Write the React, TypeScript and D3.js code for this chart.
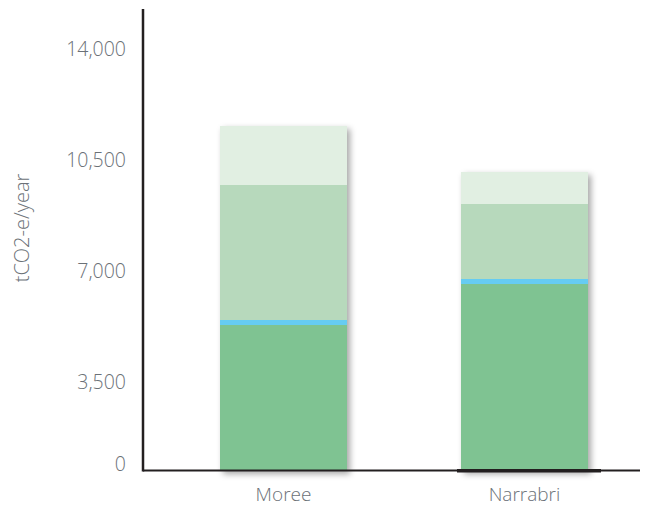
import React from "react";
import * as d3 from "d3";

const categories = ["Moree", "Narrabri"];
const seriesNames = ["base", "strip", "mid", "top"];
const baseValues = [4816, 6177];
const stripValues = [166, 166];
const midValues = [4483, 2501];
const topValues = [1960, 1053];
const tickValues = [0, 3500, 7000, 10500, 14000];
const yTitle = "tCO2-e/year";

const colors: Record<string, string> = {
  base: "#7fc392",
  strip: "#66ccf2",
  mid: "#b7d9bc",
  top: "#e1efe2",
};

const W = 646;
const H = 506;
const plotLeft = 143;
const plotRight = 640;
const baseY = 470.5;
const axisTop = 9;

export default function App() {
  const rows = categories.map((c, i) => ({
    cat: c,
    base: baseValues[i],
    strip: stripValues[i],
    mid: midValues[i],
    top: topValues[i],
  }));
  const stack = d3.stack<any>().keys(seriesNames)(rows);

  const x = d3.scaleBand<string>().domain(categories).range([220, 588]).paddingInner(0.473).paddingOuter(0);
  const y = d3.scaleLinear().domain([0, 14000]).range([baseY, 48.7]);
  // tick labels are spaced on their own scale in the reference
  const yLab = d3.scaleLinear().domain([3500, 14000]).range([382.5, 48.7]);
  const labelY = (v: number) => (v === 0 ? y(0) - 6.5 : yLab(v));

  const font = "'Open Sans', 'Noto Sans', sans-serif";
  const textColor = "#6b7177";

  return (
    <svg width={W} height={H} style={{ position: "absolute", left: 0, top: 0 }}>
      <defs>
        <filter id="sh" x="-20%" y="-20%" width="150%" height="150%">
          <feDropShadow dx="3" dy="3" stdDeviation="3" floodColor="#000" floodOpacity="0.35" />
        </filter>
      </defs>
      <rect x={0} y={0} width={W} height={H} fill="#fff" />
      {categories.map((c, i) => (
        <g key={c} filter="url(#sh)">
          {stack.map((s) => (
            <rect
              key={s.key}
              x={x(c)}
              width={x.bandwidth()}
              y={y(s[i][1])}
              height={y(s[i][0]) - y(s[i][1])}
              fill={colors[s.key]}
              shapeRendering="crispEdges"
            />
          ))}
        </g>
      ))}
      <line x1={plotLeft} x2={plotRight} y1={baseY} y2={baseY} stroke="#231f20" strokeWidth={2} />
      <line
        x1={(x("Narrabri") as number) - 4}
        x2={(x("Narrabri") as number) + x.bandwidth() + 13}
        y1={baseY + 0.3}
        y2={baseY + 0.3}
        stroke="#231f20"
        strokeWidth={3.5}
      />
      <line x1={plotLeft} x2={plotLeft} y1={axisTop} y2={baseY + 1} stroke="#231f20" strokeWidth={2.5} />
      {tickValues.map((v) => (
        <text
          key={v}
          x={126}
          y={labelY(v)}
          dy="0.35em"
          textAnchor="end"
          fontFamily={font}
          fontWeight={300}
          fontSize={19.5}
          fill={textColor}
        >
          {d3.format(",")(v)}
        </text>
      ))}
      {categories.map((c) => (
        <text
          key={c}
          x={(x(c) as number) + x.bandwidth() / 2}
          y={501}
          textAnchor="middle"
          fontFamily={font}
          fontWeight={300}
          fontSize={19}
          fill={textColor}
        >
          {c}
        </text>
      ))}
      <text
        transform={`translate(21.5,228) rotate(-90)`}
        dy="0.35em"
        textAnchor="middle"
        fontFamily={font}
        fontWeight={300}
        fontSize={20}
        fill={textColor}
      >
        {yTitle}
      </text>
    </svg>
  );
}
